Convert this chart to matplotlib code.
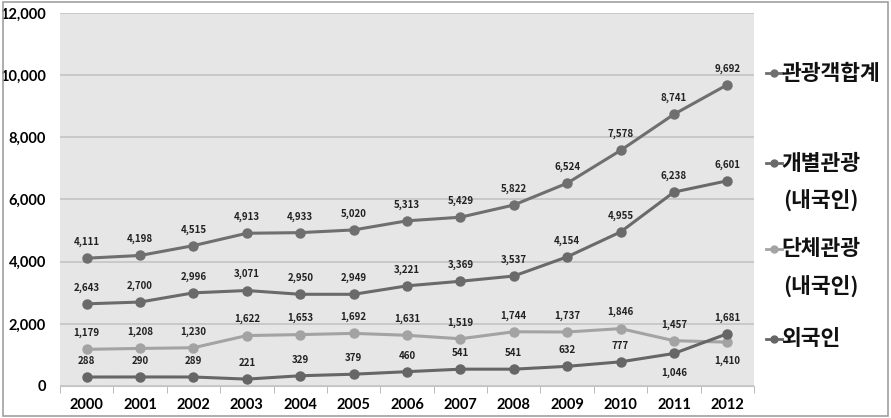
import matplotlib.pyplot as plt
from matplotlib.lines import Line2D
from matplotlib.patches import Rectangle

plt.rcParams['font.family'] = ['Noto Sans CJK KR', 'DejaVu Sans']

# Data (unit: thousand people)
years = ['2000', '2001', '2002', '2003', '2004', '2005', '2006',
         '2007', '2008', '2009', '2010', '2011', '2012']
total = [4111, 4198, 4515, 4913, 4933, 5020, 5313, 5429, 5822, 6524, 7578, 8741, 9692]
individual = [2643, 2700, 2996, 3071, 2950, 2949, 3221, 3369, 3537, 4154, 4955, 6238, 6601]
group = [1179, 1208, 1230, 1622, 1653, 1692, 1631, 1519, 1744, 1737, 1846, 1457, 1410]
foreign = [288, 290, 289, 221, 329, 379, 460, 541, 541, 632, 777, 1046, 1681]

# name, values, colour, indices whose label sits below the point
series = [
    ('관광객합계', total, '#6f6f6f', []),
    ('개별관광\n(내국인)', individual, '#6a6a6a', []),
    ('단체관광\n(내국인)', group, '#a3a3a3', [12]),
    ('외국인', foreign, '#666666', [11]),
]

fig = plt.figure(figsize=(8.91, 4.18), dpi=100)
fig.patches.append(Rectangle((0.003, 0.005), 0.994, 0.99, transform=fig.transFigure,
                             fill=False, edgecolor='#a0a0a0', linewidth=1.2))
ax = fig.add_axes([0.0673, 0.0766, 0.7790, 0.8924])
ax.set_facecolor('#e6e6e6')

x = list(range(len(years)))
for name, vals, col, below in series:
    ax.plot(x, vals, color=col, linewidth=2.2, marker='o', markersize=6.5, zorder=3)
    for i, v in enumerate(vals):
        if i in below:
            ax.annotate(f'{v:,}', (i, v), xytext=(0, -10), textcoords='offset points',
                        ha='center', va='top', fontsize=7, fontweight='bold', color='#222222')
        else:
            ax.annotate(f'{v:,}', (i, v), xytext=(0, 8), textcoords='offset points',
                        ha='center', va='bottom', fontsize=7, fontweight='bold', color='#222222')

ax.set_xlim(-0.5, len(years) - 0.5)
ax.set_ylim(0, 12000)
ax.set_yticks(range(0, 12001, 2000))
ax.set_yticklabels([f'{v:,}' for v in range(0, 12001, 2000)])
ax.set_xticks(x)
ax.set_xticklabels(years)
ax.set_xticks([i - 0.5 for i in range(len(years) + 1)], minor=True)
ax.tick_params(axis='x', which='major', length=0, pad=9, labelsize=10.5)
ax.tick_params(axis='x', which='minor', length=5, color='#b0b0b0', direction='out')
ax.tick_params(axis='y', length=0, pad=10, labelsize=10.5)
for lab in ax.get_xticklabels() + ax.get_yticklabels():
    lab.set_fontweight('bold')
    lab.set_fontfamily(['Lato', 'DejaVu Sans'])
ax.grid(axis='y', color='#c4c4c4', linewidth=1.2)
ax.set_axisbelow(True)
for s in ['top', 'right', 'left']:
    ax.spines[s].set_visible(False)
ax.spines['bottom'].set_color('#c4c4c4')

# legend on the right
leg_y = [0.825, 0.61, 0.405, 0.19]
for (name, vals, col, below), yy in zip(series, leg_y):
    fig.lines.append(Line2D([0.860, 0.878], [yy, yy], transform=fig.transFigure,
                            color=col, linewidth=2))
    fig.lines.append(Line2D([0.869], [yy], transform=fig.transFigure, color=col,
                            marker='o', markersize=5, linestyle='none'))
    lines = name.split('\n')
    fig.text(0.877, yy, lines[0], ha='left', va='center', fontsize=15.5,
             fontweight='bold', color='#111111')
    if len(lines) > 1:
        fig.text(0.879, yy - 0.089, lines[1], ha='left', va='center', fontsize=15.5,
                 fontweight='bold', color='#111111')

fig.savefig('out.png', dpi=100)
